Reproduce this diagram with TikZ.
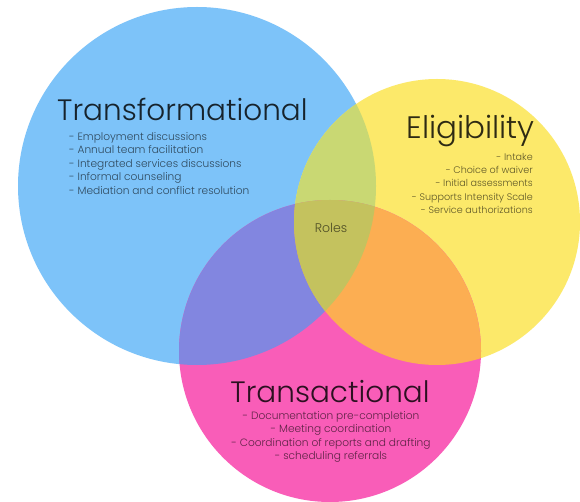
\documentclass[tikz,border=0pt]{standalone}
\usepackage{fontspec}
\setmainfont{Poppins}
\IfFontExistsTF{Poppins Light}
  {\newfontfamily\lightfont{Poppins Light}}
  {\newfontfamily\lightfont{Poppins}}

% circle fills and their overlaps
\definecolor{cblue}{HTML}{7DC3F9}
\definecolor{cyel}{HTML}{FCE96A}
\definecolor{cpink}{HTML}{F95DB8}
\definecolor{cby}{HTML}{C9D873}
\definecolor{cbp}{HTML}{8286E0}
\definecolor{cyp}{HTML}{FCAE52}
\definecolor{cmid}{HTML}{C4C25E}

\tikzset{
  title/.style={inner sep=0pt, font=\lightfont\fontsize{29.5}{32}\selectfont, text=black, text opacity=0.82},
  items/.style={inner sep=0pt, font=\lightfont\fontsize{10.6}{13.6}\selectfont, text=black, text opacity=0.62},
  smallitems/.style={items, font=\lightfont\fontsize{9.6}{13.3}\selectfont},
  roleslabel/.style={inner sep=0pt, font=\lightfont\fontsize{12.5}{14}\selectfont, text=black, text opacity=0.6}
}

\begin{document}
\begin{tikzpicture}[x=1pt,y=-1pt]
\useasboundingbox (0,0) rectangle (580,502);
\fill[white] (0,0) rectangle (580,502);

\coordinate (cb) at (197,186);
\coordinate (cy) at (437,222);
\coordinate (cp) at (330,351);
\def\rb{179pt}
\def\ry{143pt}
\def\rp{151pt}

% the three circles
\fill[cblue] (cb) circle[radius=\rb];
\fill[cyel]  (cy) circle[radius=\ry];
\fill[cpink] (cp) circle[radius=\rp];

% pairwise overlaps
\begin{scope}
  \clip (cb) circle[radius=\rb];
  \fill[cby] (cy) circle[radius=\ry];
\end{scope}
\begin{scope}
  \clip (cb) circle[radius=\rb];
  \fill[cbp] (cp) circle[radius=\rp];
\end{scope}
\begin{scope}
  \clip (cy) circle[radius=\ry];
  \fill[cyp] (cp) circle[radius=\rp];
\end{scope}
% centre overlap
\begin{scope}
  \clip (cb) circle[radius=\rb];
  \clip (cy) circle[radius=\ry];
  \fill[cmid] (cp) circle[radius=\rp];
\end{scope}

% labels
\node[title, anchor=base west] (tf) at (57,121) {Transformational};
\node[items, anchor=north west, align=left] (tflist) at (69,132)
  {- Employment discussions\\
   - Annual team facilitation\\
   - Integrated services discussions\\
   - Informal counseling\\
   - Mediation and conflict resolution};

\node[title, anchor=base east, font=\lightfont\fontsize{31}{33}\selectfont] (el) at (535,139) {Eligibility};
\node[smallitems, anchor=north east, align=right] (ellist) at (533,153)
  {- Intake\\
   - Choice of waiver\\
   - Initial assessments\\
   - Supports Intensity Scale\\
   - Service authorizations};

\node[title, anchor=base] (tr) at (330,402) {Transactional};
\node[items, anchor=north, align=center] (trlist) at (331,411)
  {- Documentation pre-completion\\
   - Meeting coordination\\
   - Coordination of reports and drafting\\
   - scheduling referrals};

\node[roleslabel] (roles) at (331,228) {Roles};
\end{tikzpicture}
\end{document}
